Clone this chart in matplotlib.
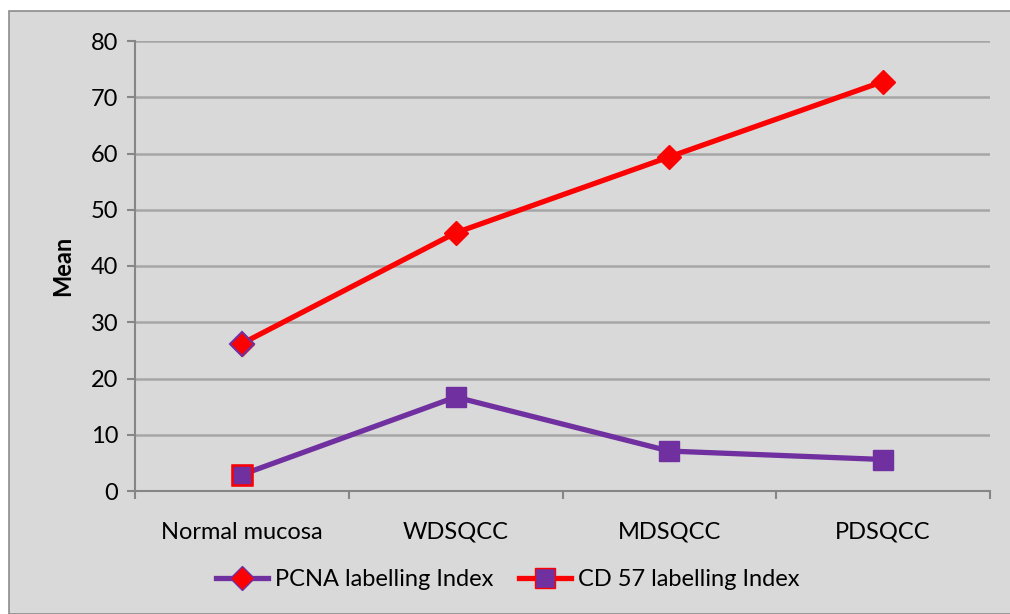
import matplotlib
matplotlib.use("Agg")
from matplotlib import pyplot as plt
from matplotlib.lines import Line2D
from matplotlib.patches import Rectangle

# group names and mean values per group
groups = ["Normal mucosa", "WDSQCC", "MDSQCC", "PDSQCC"]
pcna_mean = [26.2, 45.9, 59.4, 72.8]
cd57_mean = [2.9, 16.7, 7.1, 5.6]
series_labels = ["PCNA labelling Index", "CD 57 labelling Index"]

RED = "#FF0000"
PURPLE = "#7030A0"
BG = "#D9D9D9"

plt.rcParams["font.family"] = ["Lato", "DejaVu Sans"]

fig = plt.figure(figsize=(10.1, 6.14), dpi=100, facecolor="white")
# chart area panel with a thin border
fig.patches.append(Rectangle((9 / 1010, 0), 1.0, 1 - 11 / 614, transform=fig.transFigure,
                             facecolor=BG, edgecolor="#8C8C8C", linewidth=1.2, zorder=-10))

ax = fig.add_axes([135 / 1010, 1 - 491 / 614, (990 - 135) / 1010, (491 - 41) / 614])
ax.set_facecolor(BG)

x = list(range(len(groups)))

ax.plot(x, pcna_mean, color=RED, lw=3.8, marker="D", ms=12, mfc=RED, mec=RED,
        zorder=3, solid_capstyle="butt")
ax.plot(x, cd57_mean, color=PURPLE, lw=3.8, marker="s", ms=14, mfc=PURPLE, mec=PURPLE,
        zorder=3, solid_capstyle="butt")
# first points carry the other series' colour on the edge
ax.plot(x[0], pcna_mean[0], marker="D", ms=12, mfc=RED, mec=PURPLE, mew=1.5, ls="none", zorder=4)
ax.plot(x[0], cd57_mean[0], marker="s", ms=14, mfc=PURPLE, mec=RED, mew=1.8, ls="none", zorder=4)

ax.set_xlim(-0.5, len(groups) - 0.5)
ax.set_ylim(0, 80)
ax.set_yticks(range(0, 81, 10))
ax.set_xticks(x)
ax.set_xticklabels(groups)
ax.set_xticks([i - 0.5 for i in range(len(groups) + 1)], minor=True)

ax.grid(axis="y", color="#A6A6A6", lw=1.8)
ax.set_axisbelow(True)
for side in ["top", "right"]:
    ax.spines[side].set_visible(False)
for side in ["left", "bottom"]:
    ax.spines[side].set_color("#868686")
    ax.spines[side].set_linewidth(1.5)

ax.tick_params(axis="y", length=6, width=1.5, color="#868686", labelsize=17, pad=6)
ax.tick_params(axis="x", which="major", length=0, labelsize=17, pad=22)
ax.tick_params(axis="x", which="minor", length=6, width=1.5, color="#868686")

ax.set_ylabel("Mean", fontsize=17, fontweight="bold", labelpad=12)

handles = [
    Line2D([], [], color=PURPLE, lw=3.8, marker="D", ms=12, mfc=RED, mec=PURPLE),
    Line2D([], [], color=RED, lw=3.8, marker="s", ms=14, mfc=PURPLE, mec=RED),
]
fig.legend(handles, series_labels, loc="center", bbox_to_anchor=(0.503, 1 - 580 / 614),
           ncol=2, frameon=False, fontsize=17, handlelength=2.2, columnspacing=1.1,
           handletextpad=0.3)

fig.savefig("out.png", dpi=100, facecolor=fig.get_facecolor())
